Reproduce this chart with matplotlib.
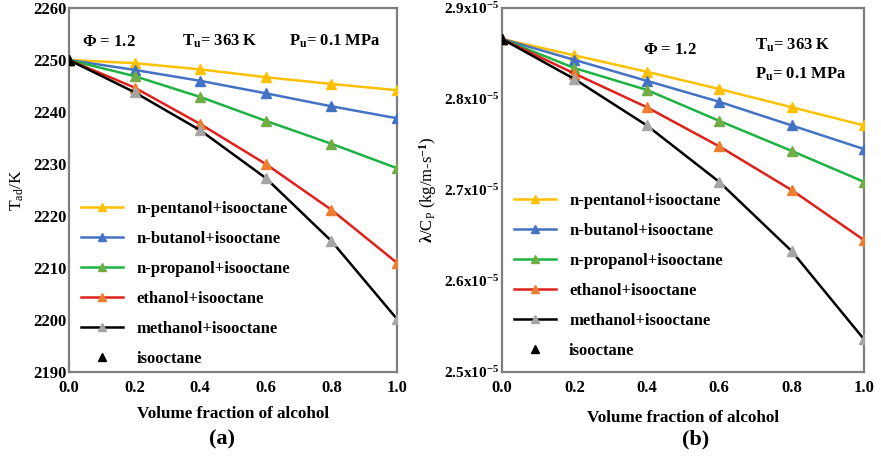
import matplotlib
matplotlib.use('Agg')
import matplotlib.pyplot as plt
import numpy as np

plt.rcParams['font.family'] = ['Liberation Serif', 'DejaVu Serif']
plt.rcParams['font.weight'] = 'bold'
plt.rcParams['mathtext.fontset'] = 'custom'
plt.rcParams['mathtext.rm'] = 'Liberation Serif:bold'
plt.rcParams['mathtext.it'] = 'Liberation Serif:bold'
plt.rcParams['mathtext.bf'] = 'Liberation Serif:bold'

# volume fraction of alcohol in the blend
frac = [0.0, 0.2, 0.4, 0.6, 0.8, 1.0]

labels = ['n-pentanol+isooctane', 'n-butanol+isooctane', 'n-propanol+isooctane',
          'ethanol+isooctane', 'methanol+isooctane']
line_colors = ['#FFC000', '#4472C4', '#1DB343', '#E0201B', '#000000']
mark_colors = ['#FFC000', '#4472C4', '#70AD47', '#ED7D31', '#A5A5A5']

# adiabatic flame temperature, K
tad_pentanol = [2250.0, 2249.4, 2248.2, 2246.7, 2245.4, 2244.2]
tad_butanol = [2250.0, 2248.1, 2246.0, 2243.6, 2241.1, 2238.8]
tad_propanol = [2250.0, 2246.9, 2242.9, 2238.3, 2233.9, 2229.2]
tad_ethanol = [2250.0, 2244.7, 2237.7, 2230.0, 2221.2, 2211.0]
tad_methanol = [2250.0, 2243.8, 2236.5, 2227.3, 2215.2, 2200.2]

# lambda / Cp, kg/(m s)
lc_pentanol = [2.866e-5, 2.848e-5, 2.830e-5, 2.811e-5, 2.791e-5, 2.771e-5]
lc_butanol = [2.866e-5, 2.843e-5, 2.820e-5, 2.797e-5, 2.771e-5, 2.745e-5]
lc_propanol = [2.866e-5, 2.834e-5, 2.810e-5, 2.776e-5, 2.743e-5, 2.709e-5]
lc_ethanol = [2.866e-5, 2.828e-5, 2.791e-5, 2.748e-5, 2.700e-5, 2.645e-5]
lc_methanol = [2.866e-5, 2.822e-5, 2.771e-5, 2.709e-5, 2.633e-5, 2.536e-5]

tad_all = [tad_pentanol, tad_butanol, tad_propanol, tad_ethanol, tad_methanol]
lc_all = [lc_pentanol, lc_butanol, lc_propanol, lc_ethanol, lc_methanol]

lc_ticks = [2.5e-5, 2.6e-5, 2.7e-5, 2.8e-5, 2.9e-5]
lc_ticklabels = [r'2.5x10$^{-5}$', r'2.6x10$^{-5}$', r'2.7x10$^{-5}$',
                 r'2.8x10$^{-5}$', r'2.9x10$^{-5}$']

fig = plt.figure(figsize=(8.81, 4.61), dpi=100)
ax1 = fig.add_axes([0.0783, 0.193, 0.3723, 0.7896])
ax2 = fig.add_axes([0.5698, 0.193, 0.4109, 0.7896])


def draw_series(ax, data):
    handles = []
    for y, lab, lc, mc in zip(data, labels, line_colors, mark_colors):
        h, = ax.plot(frac, y, color=lc, linewidth=1.8, marker='^', markersize=7.5,
                     markerfacecolor=mc, markeredgecolor=mc, label=lab, zorder=3)
        handles.append(h)
    h, = ax.plot(frac[0], data[0][0], linestyle='none', marker='^', markersize=7.5,
                 color='black', label='isooctane', zorder=4)
    handles.append(h)
    return handles


def style_axes(ax, ysize, xpad):
    ax.set_xlim(0, 1.0)
    ax.set_xticks([0.0, 0.2, 0.4, 0.6, 0.8, 1.0])
    ax.set_xticklabels(['0.0', '0.2', '0.4', '0.6', '0.8', '1.0'])
    for s in ax.spines.values():
        s.set_color('#7f7f7f')
        s.set_linewidth(1.6)
    ax.tick_params(axis='x', length=0, labelsize=12, pad=6)
    ax.tick_params(axis='y', length=0, labelsize=ysize, pad=2)
    ax.set_xlabel('Volume fraction of alcohol', fontsize=12.3, fontweight='bold', labelpad=xpad)


def add_legend(ax, handles, y0):
    ax.legend(handles=handles, loc='lower left', bbox_to_anchor=(-0.008, y0), frameon=False,
              fontsize=12, handlelength=2.5, labelspacing=0.84, handletextpad=0.8,
              markerscale=0.85)


# (a) adiabatic flame temperature
h1 = draw_series(ax1, tad_all)
style_axes(ax1, 12, 7)
ax1.set_ylim(2190, 2260)
ax1.set_yticks(np.arange(2190, 2261, 10))
ax1.set_ylabel(r'T$_{\mathregular{ad}}$/K', fontsize=12.5, labelpad=5)
ax1.text(0.04, 0.897, r'$\Phi$ = 1.2', transform=ax1.transAxes, fontsize=12)
ax1.text(0.345, 0.897, r'T$_\mathregular{u}$= 363 K', transform=ax1.transAxes, fontsize=12)
ax1.text(0.67, 0.897, r'P$_\mathregular{u}$= 0.1 MPa', transform=ax1.transAxes, fontsize=12)
add_legend(ax1, h1, -0.027)
fig.text(0.252, 0.035, '(a)', fontsize=16, fontweight='bold', ha='center')

# (b) lambda / Cp
h2 = draw_series(ax2, lc_all)
style_axes(ax2, 11, 10)
ax2.set_ylim(2.5e-5, 2.9e-5)
ax2.set_yticks(lc_ticks)
ax2.set_yticklabels(lc_ticklabels)
ax2.set_ylabel(r'$\lambda$/C$_\mathregular{P}$ (kg/m-s$^{-1}$)', fontsize=12, labelpad=4)
ax2.text(0.39, 0.875, r'$\Phi$ = 1.2', transform=ax2.transAxes, fontsize=12)
ax2.text(0.70, 0.885, r'T$_\mathregular{u}$= 363 K', transform=ax2.transAxes, fontsize=12)
ax2.text(0.70, 0.805, r'P$_\mathregular{u}$= 0.1 MPa', transform=ax2.transAxes, fontsize=12)
add_legend(ax2, h2, -0.005)
fig.text(0.79, 0.035, '(b)', fontsize=16, fontweight='bold', ha='center')

plt.savefig('out.png', dpi=100)
